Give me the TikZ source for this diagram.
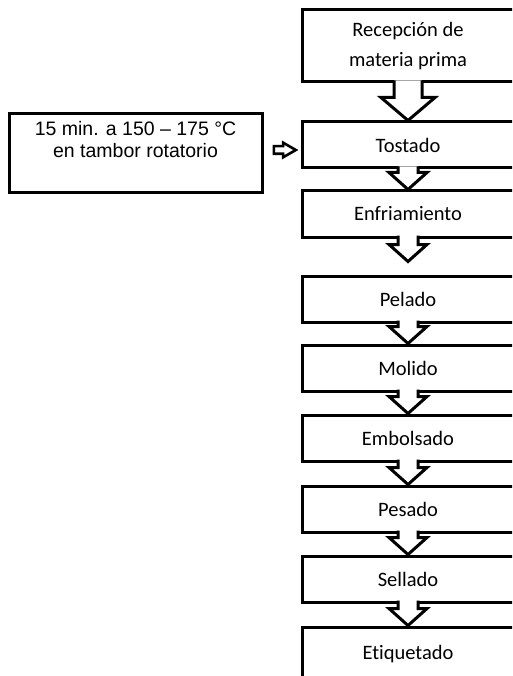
\documentclass[tikz,border=0pt]{standalone}
\usepackage{fontspec}
\setmainfont{Carlito}[Ligatures=NoCommon]
\newfontfamily\arialfont{Liberation Sans}
\usetikzlibrary{calc, shapes.arrows, positioning}
\tikzset{basic/.style={draw, line width=3pt}}
\tikzset{paso/.style={basic, rectangle, minimum width=212pt, minimum height=46pt, align=center, font=\fontsize{20.5}{30}\selectfont}}
\tikzset{nota/.style={basic, rectangle, minimum width=253pt, minimum height=79pt, align=center, font=\arialfont\fontsize{19.5}{21.5}\selectfont}}
\tikzset{flecha/.style n args={3}{%
     basic, fill=white, line join=miter,
     to path={let \p1=(\tikztostart), \p2=(\tikztotarget) in
        (\x1-#1,\y1+3pt) -- (\x1-#1,\y2+#3) -- (\x1-#2,\y2+#3) -- (\x1,\y2)
        -- (\x1+#2,\y2+#3) -- (\x1+#1,\y2+#3) -- (\x1+#1,\y1+3pt)}
   }
}
\tikzset{grande/.style={flecha={14pt}{27pt}{23pt}}}
\tikzset{chica/.style={flecha={10pt}{19pt}{17pt}}}

\begin{document}
\begin{tikzpicture}

    \useasboundingbox (0,0) rectangle (512pt,-676pt);
    \clip (0,0) rectangle (512pt,-676pt);

    \node[paso, minimum height=72pt] (rec) at (408pt,-46pt) {Recepción de\\materia prima};
    \node[paso, below=37pt of rec] (tos) {Tostado};
    \node[paso, below=20pt of tos] (enf) {Enfriamiento};
    \node[paso, below=36pt of enf] (pel) {Pelado};
    \node[paso, below=20pt of pel] (mol) {Molido};
    \node[paso, below=21pt of mol] (emb) {Embolsado};
    \node[paso, below=22pt of emb] (pes) {Pesado};
    \node[paso, below=21pt of pes] (sel) {Sellado};
    \node[paso, minimum height=54pt, below=22pt of sel] (eti) {Etiquetado};

    \node[nota, left=37pt of tos, yshift=-8.5pt] (cond) {15 min. a 150 – 175 °C\\en tambor rotatorio\\\strut};
    \node[single arrow, draw, line width=2.6pt, inner xsep=0pt, inner ysep=2.5pt,
          minimum height=22pt, single arrow head extend=3.5pt, single arrow tip angle=60,
          right=9pt of cond, yshift=3.5pt] (ent) {};

    \draw[grande] (rec.south) to (tos.north);
    \draw[chica] (tos.south) to (enf.north);
    \draw[chica] (enf.south) to ($(pel.north)+(0,13pt)$);
    \draw[chica] (pel.south) to (mol.north);
    \draw[chica] (mol.south) to (emb.north);
    \draw[chica] (emb.south) to (pes.north);
    \draw[chica] (pes.south) to (sel.north);
    \draw[chica] (sel.south) to (eti.north);

\end{tikzpicture}
\end{document}
